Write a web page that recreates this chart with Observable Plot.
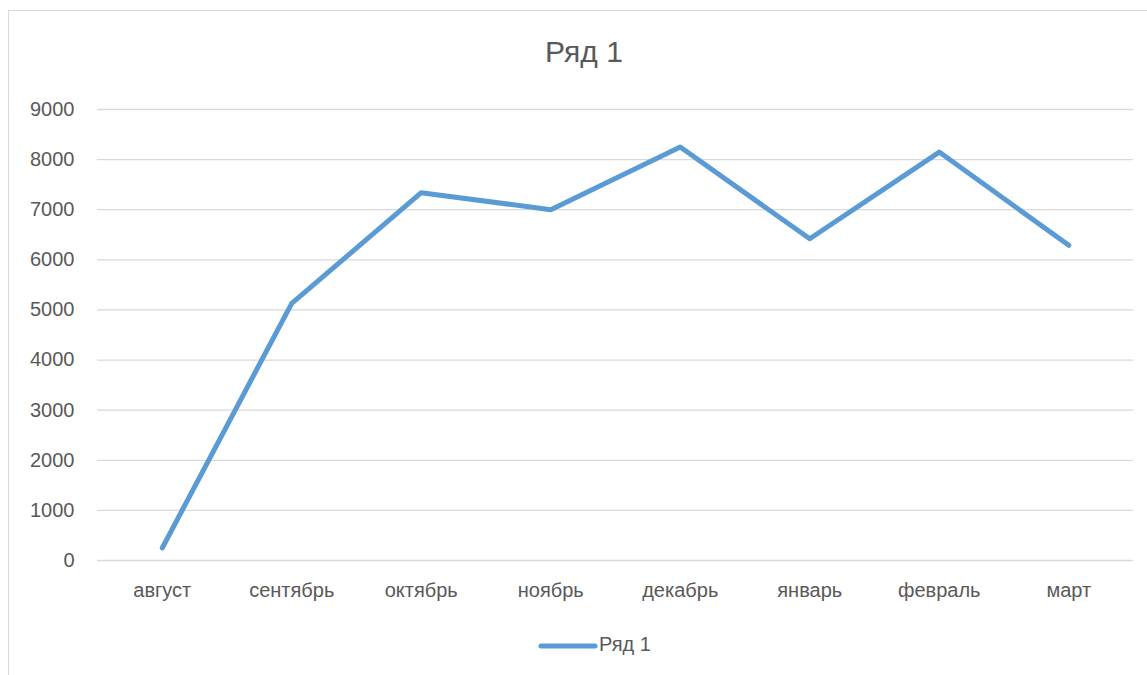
<!DOCTYPE html>
<html>
<head>
<meta charset="utf-8">
<script src="https://cdn.jsdelivr.net/npm/d3@7"></script>
<script src="https://cdn.jsdelivr.net/npm/@observablehq/plot@0.6"></script>
<style>
  html, body { margin: 0; padding: 0; background: #fff; }
  body { width: 1147px; height: 675px; overflow: hidden; font-family: "Liberation Sans", Arial, sans-serif; color: #595959; }
  #wrap { position: relative; width: 1147px; height: 675px; }
  #frame { position: absolute; left: 8px; top: 10px; width: 1160px; height: 700px; border: 1.5px solid #D9D9D9; box-sizing: border-box; }
  #title { position: absolute; left: 0; top: 32px; width: 1168px; text-align: center; font-size: 30px; color: #595959; line-height: 40px; }
  #chart { position: absolute; left: 0; top: 0; }
  #legend { position: absolute; left: 0; top: 630px; width: 1189px; text-align: center; font-size: 20px; color: #595959; line-height: 28px; }
  #legend svg { vertical-align: middle; margin-right: 1px; }
</style>
</head>
<body>
<div id="wrap">
  <div id="frame"></div>
  <div id="chart"></div>
  <div id="title">Ряд 1</div>
  <div id="legend"><svg width="60" height="10"><line x1="3" y1="5" x2="57" y2="5" stroke="#5B9BD5" stroke-width="5" stroke-linecap="round"/></svg><span>Ряд 1</span></div>
</div>
<script>
const seriesName = "Ряд 1";
const months = ["август", "сентябрь", "октябрь", "ноябрь", "декабрь", "январь", "февраль", "март"];
const values = [250, 5130, 7340, 7000, 8250, 6420, 8150, 6290];
const yTicks = [0, 1000, 2000, 3000, 4000, 5000, 6000, 7000, 8000, 9000];

const data = months.map((m, i) => ({month: m, value: values[i]}));

const chart = Plot.plot({
  width: 1147,
  height: 675,
  marginLeft: 97,
  marginRight: 14,
  marginTop: 109,
  marginBottom: 115,
  style: {fontFamily: "'Liberation Sans', Arial, sans-serif", fontSize: "20px", color: "#595959", background: "transparent"},
  x: {type: "point", domain: months, padding: 0.5, round: false, label: null},
  y: {domain: [0, 9000], ticks: yTicks, label: null},
  marks: [
    Plot.ruleY(yTicks, {stroke: "#D9D9D9", strokeWidth: 1.3}),
    Plot.axisY({ticks: yTicks, tickFormat: d => String(d), tickSize: 0, tickPadding: 23, fill: "#595959", fontSize: 20, label: null}),
    Plot.axisX({tickSize: 0, tickPadding: 22, fill: "#595959", fontSize: 20, label: null}),
    Plot.line(data, {x: "month", y: "value", stroke: "#5B9BD5", strokeWidth: 5, strokeLinecap: "round", strokeLinejoin: "round"})
  ]
});
document.getElementById("chart").appendChild(chart);
</script>
</body>
</html>
